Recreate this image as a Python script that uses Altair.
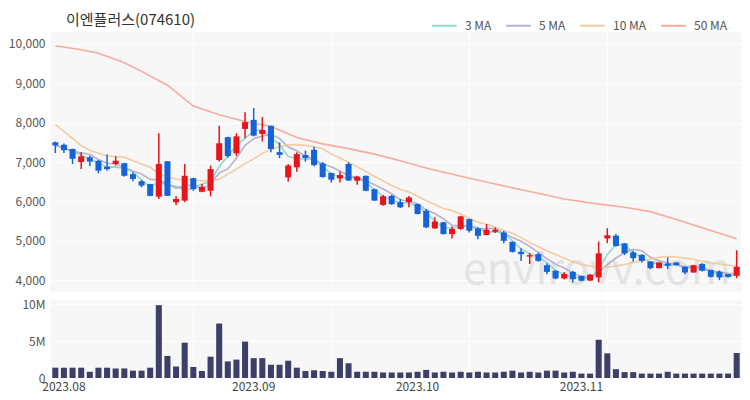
import altair as alt
import pandas as pd

dates = [
    "2023-07-31",
    "2023-08-01", "2023-08-02", "2023-08-03", "2023-08-04", "2023-08-07", "2023-08-08", "2023-08-09",
    "2023-08-10", "2023-08-11", "2023-08-14", "2023-08-16", "2023-08-17", "2023-08-18", "2023-08-21",
    "2023-08-22", "2023-08-23", "2023-08-24", "2023-08-25", "2023-08-28", "2023-08-29", "2023-08-30",
    "2023-08-31",
    "2023-09-01", "2023-09-04", "2023-09-05", "2023-09-06", "2023-09-07", "2023-09-08", "2023-09-11",
    "2023-09-12", "2023-09-13", "2023-09-14", "2023-09-15", "2023-09-18", "2023-09-19", "2023-09-20",
    "2023-09-21", "2023-09-22", "2023-09-25", "2023-09-26", "2023-09-27",
    "2023-10-04", "2023-10-05", "2023-10-06", "2023-10-10", "2023-10-11", "2023-10-12", "2023-10-13",
    "2023-10-16", "2023-10-17", "2023-10-18", "2023-10-19", "2023-10-20", "2023-10-23", "2023-10-24",
    "2023-10-25", "2023-10-26", "2023-10-27", "2023-10-30", "2023-10-31",
    "2023-11-01", "2023-11-02", "2023-11-03", "2023-11-06", "2023-11-07", "2023-11-08", "2023-11-09",
    "2023-11-10", "2023-11-13", "2023-11-14", "2023-11-15", "2023-11-16", "2023-11-17", "2023-11-20",
    "2023-11-21", "2023-11-22", "2023-11-23", "2023-11-24", "2023-11-27",
]

opens = [7500, 7440, 7330, 7000, 7120, 7030, 6880, 6950, 6970, 6690,
         6510, 6440, 6120, 7020, 5980, 6020, 6590, 6245, 6270, 7050,
         7630, 7220, 7840, 8070, 7710, 7920, 7250, 6610, 6865, 7180,
         7310, 6960, 6720, 6585, 6950, 6525, 6650, 6310, 5910, 6140,
         5980, 5980, 5930, 5760, 5315, 5470, 5170, 5297, 5550, 5315,
         5145, 5230, 5210, 4975, 4720, 4600, 4660, 4380, 4240, 4045,
         4210, 4110, 3990, 4070, 5060, 5130, 4935, 4705, 4645, 4475,
         4305, 4425, 4450, 4340, 4195, 4410, 4255, 4220, 4155, 4110]
highs = [7520, 7470, 7340, 7250, 7160, 7050, 7190, 7145, 6980, 6740,
         6540, 6450, 7730, 7020, 6140, 6950, 6600, 6440, 6910, 7920,
         7640, 7730, 8260, 8370, 8140, 7920, 7500, 6950, 7250, 7290,
         7390, 7000, 6730, 6760, 6990, 6650, 6660, 6320, 6160, 6170,
         6060, 6140, 5940, 5810, 5600, 5480, 5365, 5635, 5560, 5340,
         5425, 5340, 5250, 4980, 4810, 4690, 4700, 4430, 4250, 4210,
         4235, 4120, 4160, 4980, 5320, 5170, 4940, 4750, 4660, 4480,
         4460, 4580, 4460, 4345, 4390, 4430, 4260, 4250, 4160, 4760]
lows = [7230, 7230, 6950, 6820, 6900, 6710, 6780, 6910, 6630, 6510,
        6360, 6130, 6060, 6140, 5910, 5980, 6270, 6230, 6130, 7010,
        7110, 7150, 7600, 7650, 7520, 7250, 7100, 6500, 6750, 7010,
        6890, 6600, 6480, 6480, 6520, 6420, 6260, 6010, 5890, 5910,
        5830, 5850, 5670, 5320, 5300, 5160, 5060, 5280, 5210, 5040,
        5145, 5195, 4940, 4700, 4490, 4410, 4470, 4150, 4025, 4025,
        3940, 3970, 3980, 3950, 4940, 4850, 4640, 4475, 4450, 4280,
        4300, 4280, 4370, 4150, 4190, 4220, 4070, 4000, 4070, 4050]
closes = [7420, 7300, 7080, 7145, 7010, 6780, 6820, 7030, 6650, 6570,
          6400, 6140, 6950, 6140, 6060, 6650, 6310, 6370, 6820, 7475,
          7150, 7650, 8010, 7670, 7810, 7330, 7180, 6910, 7200, 7100,
          6920, 6620, 6550, 6670, 6530, 6630, 6270, 6020, 6130, 5930,
          5850, 6100, 5680, 5340, 5490, 5170, 5300, 5620, 5255, 5125,
          5280, 5280, 5000, 4720, 4660, 4635, 4490, 4210, 4045, 4155,
          4025, 3985, 4140, 4680, 5140, 4870, 4680, 4560, 4490, 4305,
          4450, 4365, 4380, 4195, 4380, 4240, 4085, 4070, 4085, 4340]
volumes_m = [1.4, 1.4, 1.4, 1.4, 0.85, 1.4, 1.4, 1.3, 1.3, 1.0,
             1.0, 1.4, 9.9, 3.0, 1.55, 4.8, 1.5, 0.95, 2.9, 7.4,
             2.26, 2.5, 4.95, 2.7, 2.7, 1.8, 1.8, 2.35, 1.4, 0.95,
             1.05, 0.95, 0.85, 2.7, 2.0, 0.85, 0.85, 0.85, 0.75, 0.75,
             0.75, 0.75, 0.85, 1.1, 0.75, 0.85, 0.75, 0.85, 0.75, 0.85,
             0.75, 0.75, 0.85, 1.0, 0.75, 0.85, 0.75, 1.0, 1.0, 0.75,
             0.85, 0.6, 0.6, 5.2, 3.35, 1.2, 0.8, 0.8, 0.6, 0.6,
             0.6, 0.85, 0.6, 0.6, 0.6, 0.6, 0.6, 0.6, 0.6, 3.4]
ma10 = [7950, 7780, 7600, 7415, 7300, 7220, 7160, 7140, 7120, 7030,
        6950, 6865, 6700, 6620, 6570, 6545, 6530, 6525, 6525, 6560,
        6700, 6820, 6960, 7080, 7220, 7320, 7390, 7430, 7440, 7420,
        7385, 7335, 7200, 7100, 6990, 6880, 6760, 6640, 6520, 6400,
        6310, 6240, 6130, 6020, 5920, 5820, 5760, 5680, 5570, 5470,
        5420, 5350, 5260, 5190, 5080, 4960, 4850, 4740, 4650, 4560,
        4470, 4400, 4360, 4330, 4330, 4360, 4400, 4450, 4490, 4540,
        4580, 4600, 4590, 4560, 4530, 4480, 4440, 4410, 4380, 4360]
ma50_idx = [0, 3, 5, 8, 10, 13, 16, 19, 22, 25, 28, 31, 34, 37, 40, 43, 47, 51, 55, 59, 63, 66, 69, 72, 75, 79]
ma50 = [9950, 9850, 9760, 9520, 9300, 8950, 8420, 8200, 8030, 7900, 7620, 7460, 7340, 7200, 7030, 6850,
        6640, 6440, 6250, 6060, 5930, 5850, 5740, 5540, 5330, 5050]

month_ticks = ["2023-08-01", "2023-09-01", "2023-10-04", "2023-11-01"]
grid_idx = [16, 32, 48, 64]
price_ticks = [4000, 5000, 6000, 7000, 8000, 9000, 10000]
vol_ticks = [0, 5_000_000, 10_000_000]
title_text = "이엔플러스(074610)"
watermark = "envirovv.com"
ma_names = ["3 MA", "5 MA", "10 MA", "50 MA"]
ma_colors = ["#86d4c9", "#b3a7cb", "#f2c795", "#f6a393"]
up_color = "#e8141c"
down_color = "#1463d8"
vol_color = "#3e3f68"
FONT = "Noto Sans CJK KR"

df = pd.DataFrame({"date": dates, "open": opens, "high": highs, "low": lows,
                   "close": closes, "volume": [v * 1e6 for v in volumes_m]})
df["dir"] = ["up" if c >= o else "down" for o, c in zip(opens, closes)]

ma3 = df["close"].rolling(3, min_periods=1).mean()
ma5 = df["close"].rolling(5, min_periods=1).mean()
ma_rows = []
for d, v in zip(dates, ma3):
    ma_rows.append({"date": d, "series": "3 MA", "value": v})
for d, v in zip(dates, ma5):
    ma_rows.append({"date": d, "series": "5 MA", "value": v})
for d, v in zip(dates, ma10):
    ma_rows.append({"date": d, "series": "10 MA", "value": v})
for i, v in zip(ma50_idx, ma50):
    ma_rows.append({"date": dates[i], "series": "50 MA", "value": v})
ma_df = pd.DataFrame(ma_rows)
ma_df["order"] = ma_df["series"].map({n: k for k, n in enumerate(ma_names)})

grid_df = pd.DataFrame({"date": [dates[i] for i in grid_idx]})

xscale = alt.Scale(domain=dates, paddingInner=0.3, paddingOuter=0.15)
x_none = alt.X("date:O", scale=xscale, axis=None)
dir_color = alt.Color("dir:N", scale=alt.Scale(domain=["up", "down"], range=[up_color, down_color]), legend=None)

W = 690
H1 = 260
H2 = 78

vgrid = alt.Chart(grid_df).mark_rule(color="white", strokeWidth=1).encode(x=x_none)

price_y = alt.Y("low:Q", scale=alt.Scale(domain=[3700, 10300], nice=False, zero=False),
                axis=alt.Axis(values=price_ticks, format=",d", title=None, grid=True, gridColor="white",
                              domain=False, ticks=False, labelPadding=6, labelFontSize=12,
                              labelColor="#555", labelFont=FONT))

wm = alt.Chart(pd.DataFrame({"t": [watermark]})).mark_text(
    align="left", baseline="alphabetic", fontSize=43, color="#d6d6d6", opacity=0.6,
    font=FONT, clip=True).encode(text="t:N", x=alt.value(412), y=alt.value(252))

title_mark = alt.Chart(pd.DataFrame({"t": [title_text]})).mark_text(
    align="left", baseline="middle", fontSize=15, color="#333", font=FONT).encode(
    text="t:N", x=alt.value(15), y=alt.value(-12))

lines = alt.Chart(ma_df).mark_line(strokeWidth=1.6, opacity=0.9).encode(
    x=x_none,
    y=alt.Y("value:Q"),
    stroke=alt.Stroke("series:N", scale=alt.Scale(domain=ma_names, range=ma_colors),
                      legend=alt.Legend(orient="none", legendX=380, legendY=-20, direction="horizontal",
                                        title=None, symbolType="stroke", symbolStrokeWidth=2,
                                        symbolSize=600, labelFontSize=12, labelColor="#555",
                                        labelFont=FONT, columnPadding=10, labelOffset=7)),
    order="order:Q",
)

wicks = alt.Chart(df).mark_rule(strokeWidth=1.5).encode(
    x=x_none, y=price_y, y2="high:Q", color=dir_color)
bodies = alt.Chart(df).mark_bar().encode(
    x=x_none, y="open:Q", y2="close:Q", color=dir_color)

upper = alt.layer(vgrid, wm, title_mark, lines, wicks, bodies).properties(width=W, height=H1)

vol_x = alt.X("date:O", scale=xscale,
              axis=alt.Axis(values=month_ticks, title=None, labelAngle=0, grid=False, domain=False,
                            ticks=False, labelPadding=3, labelFontSize=12, labelColor="#444",
                            labelFont=FONT,
                            labelExpr="replace(slice(datum.value, 0, 7), '-', '.')"))
vgrid2 = alt.Chart(grid_df).mark_rule(color="white", strokeWidth=1).encode(x=vol_x)
vol_bars = alt.Chart(df).mark_bar(color=vol_color).encode(
    x=vol_x,
    y=alt.Y("volume:Q", scale=alt.Scale(domain=[0, 10_600_000], nice=False),
            axis=alt.Axis(values=vol_ticks, title=None, grid=True, gridColor="white", domain=False,
                          ticks=False, labelPadding=6, labelFontSize=12, labelColor="#555",
                          labelFont=FONT,
                          labelExpr="datum.value == 0 ? '0' : format(datum.value / 1000000, 'd') + 'M'")),
)
lower = alt.layer(vgrid2, vol_bars).properties(width=W, height=H2)

chart = alt.vconcat(upper, lower, spacing=5).resolve_scale(x="shared").properties(
    padding={"left": 0, "top": 4, "right": 0, "bottom": 0},
).configure_view(fill="#f7f7f7", stroke=None).configure_concat(spacing=5)

chart.save("out.html", embed_options={"renderer": "svg", "actions": False})
